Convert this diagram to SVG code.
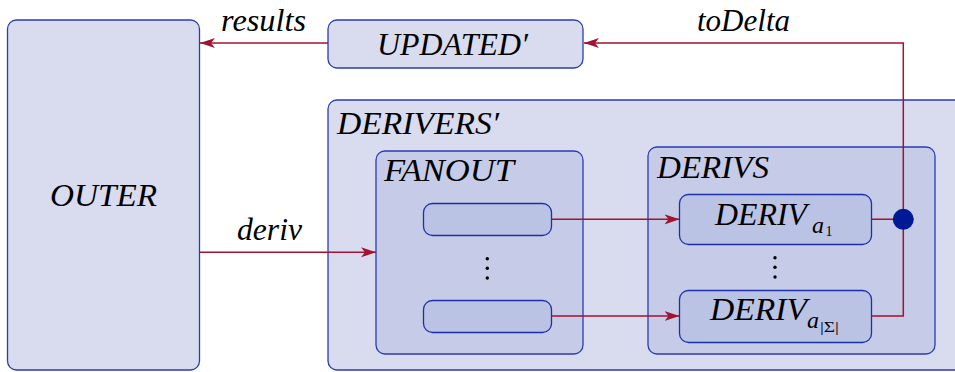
<svg xmlns="http://www.w3.org/2000/svg" width="955" height="372" viewBox="0 0 955 372">
  <style>
    .lbl { font-family: "Liberation Serif", "DejaVu Serif", serif; font-style: italic; fill: #000; }
    .big { font-size: 32px; }
    .sub { font-size: 24px; }
    .idx { font-family: "Liberation Serif", "DejaVu Serif", serif; font-style: normal; font-size: 14px; fill: #000; }
    .box { stroke: #2a3db0; stroke-width: 1.3; }
    .lvl0 { fill: #d9dcee; }
    .lvl1 { fill: #c6cbe7; }
    .lvl2 { fill: #bbc3e5; stroke: #1c2fa6; }
    .wire { fill: none; stroke: #a3122e; stroke-width: 1.5; }
    .vdots { fill: #000; }
  </style>
  <defs>
    <marker id="arrow" markerUnits="userSpaceOnUse" markerWidth="16" markerHeight="12" viewBox="0 0 16 12" refX="15" refY="6" orient="auto">
      <path d="M0,1 L15,6 L0,11 L4,6 Z" fill="#a3122e"/>
    </marker>
  </defs>

  <rect width="955" height="372" fill="#ffffff"/>

  <g id="outer">
    <rect class="box lvl0" x="7.5" y="20" width="192" height="350" rx="9"/>
    <text class="lbl big" x="50" y="206" textLength="107" lengthAdjust="spacingAndGlyphs">OUTER</text>
  </g>

  <g id="updated">
    <rect class="box lvl0" x="328" y="20" width="255" height="48" rx="9"/>
    <text class="lbl big" x="377" y="55" textLength="151" lengthAdjust="spacingAndGlyphs">UPDATED′</text>
  </g>

  <g id="derivers">
    <rect class="box lvl0" x="328" y="100" width="640" height="270" rx="9"/>
    <text class="lbl big" x="337" y="134" textLength="162" lengthAdjust="spacingAndGlyphs">DERIVERS′</text>
  </g>

  <g id="fanout">
    <rect class="box lvl1" x="376" y="151" width="207" height="203" rx="9"/>
    <text class="lbl big" x="384" y="181" textLength="130" lengthAdjust="spacingAndGlyphs">FANOUT</text>
    <rect class="box lvl2" x="423.5" y="203.5" width="128" height="32" rx="9"/>
    <rect class="box lvl2" x="423.5" y="300.5" width="128" height="32" rx="9"/>
    <g class="vdots">
      <circle cx="487.3" cy="258.7" r="1.7"/>
      <circle cx="487.3" cy="268.3" r="1.7"/>
      <circle cx="487.3" cy="278" r="1.7"/>
    </g>
  </g>

  <g id="derivs">
    <rect class="box lvl1" x="648" y="147" width="287" height="207" rx="9"/>
    <text class="lbl big" x="657" y="177.5" textLength="112" lengthAdjust="spacingAndGlyphs">DERIVS</text>
    <g class="vdots">
      <circle cx="775" cy="257.7" r="1.7"/>
      <circle cx="775" cy="267.3" r="1.7"/>
      <circle cx="775" cy="277" r="1.7"/>
    </g>
  </g>

  <g id="deriv-first">
    <rect class="box lvl2" x="679.5" y="194.5" width="192" height="50" rx="9"/>
    <text class="lbl big" x="715" y="224.5" textLength="92" lengthAdjust="spacingAndGlyphs">DERIV</text>
    <text class="lbl sub" x="812" y="233">a</text>
    <text class="idx" x="825.5" y="236">1</text>
  </g>

  <g id="deriv-last">
    <rect class="box lvl2" x="679.5" y="290.5" width="192" height="52" rx="9"/>
    <text class="lbl big" x="710" y="319.5" textLength="97" lengthAdjust="spacingAndGlyphs">DERIV</text>
    <text class="lbl sub" x="807" y="328.3">a</text>
    <text class="idx" x="820" y="332" textLength="19" lengthAdjust="spacingAndGlyphs">|Σ|</text>
  </g>

  <g id="connectors">
    <!-- UPDATED' back to OUTER -->
    <line class="wire" x1="328" y1="43" x2="200" y2="43" marker-end="url(#arrow)"/>
    <text class="lbl big" x="221" y="31" textLength="85" lengthAdjust="spacingAndGlyphs">results</text>

    <!-- collected derivatives up to UPDATED' -->
    <polyline class="wire" points="903.3,219.3 903.3,43 584,43" marker-end="url(#arrow)"/>
    <text class="lbl big" x="697" y="31" textLength="93" lengthAdjust="spacingAndGlyphs">toDelta</text>

    <!-- OUTER into FANOUT -->
    <line class="wire" x1="199.5" y1="252.3" x2="376" y2="252.3" marker-end="url(#arrow)"/>
    <text class="lbl big" x="237" y="240" textLength="65" lengthAdjust="spacingAndGlyphs">deriv</text>

    <!-- FANOUT slots to each DERIV -->
    <line class="wire" x1="551.5" y1="219.3" x2="679.5" y2="219.3" marker-end="url(#arrow)"/>
    <line class="wire" x1="551.5" y1="316" x2="679.5" y2="316" marker-end="url(#arrow)"/>

    <!-- DERIV outputs merged at the join point -->
    <line class="wire" x1="871.5" y1="219.3" x2="903.3" y2="219.3"/>
    <polyline class="wire" points="871.5,316 903.3,316 903.3,219.3"/>
    <circle cx="903.3" cy="219.3" r="10.5" fill="#001a96"/>
  </g>
</svg>
